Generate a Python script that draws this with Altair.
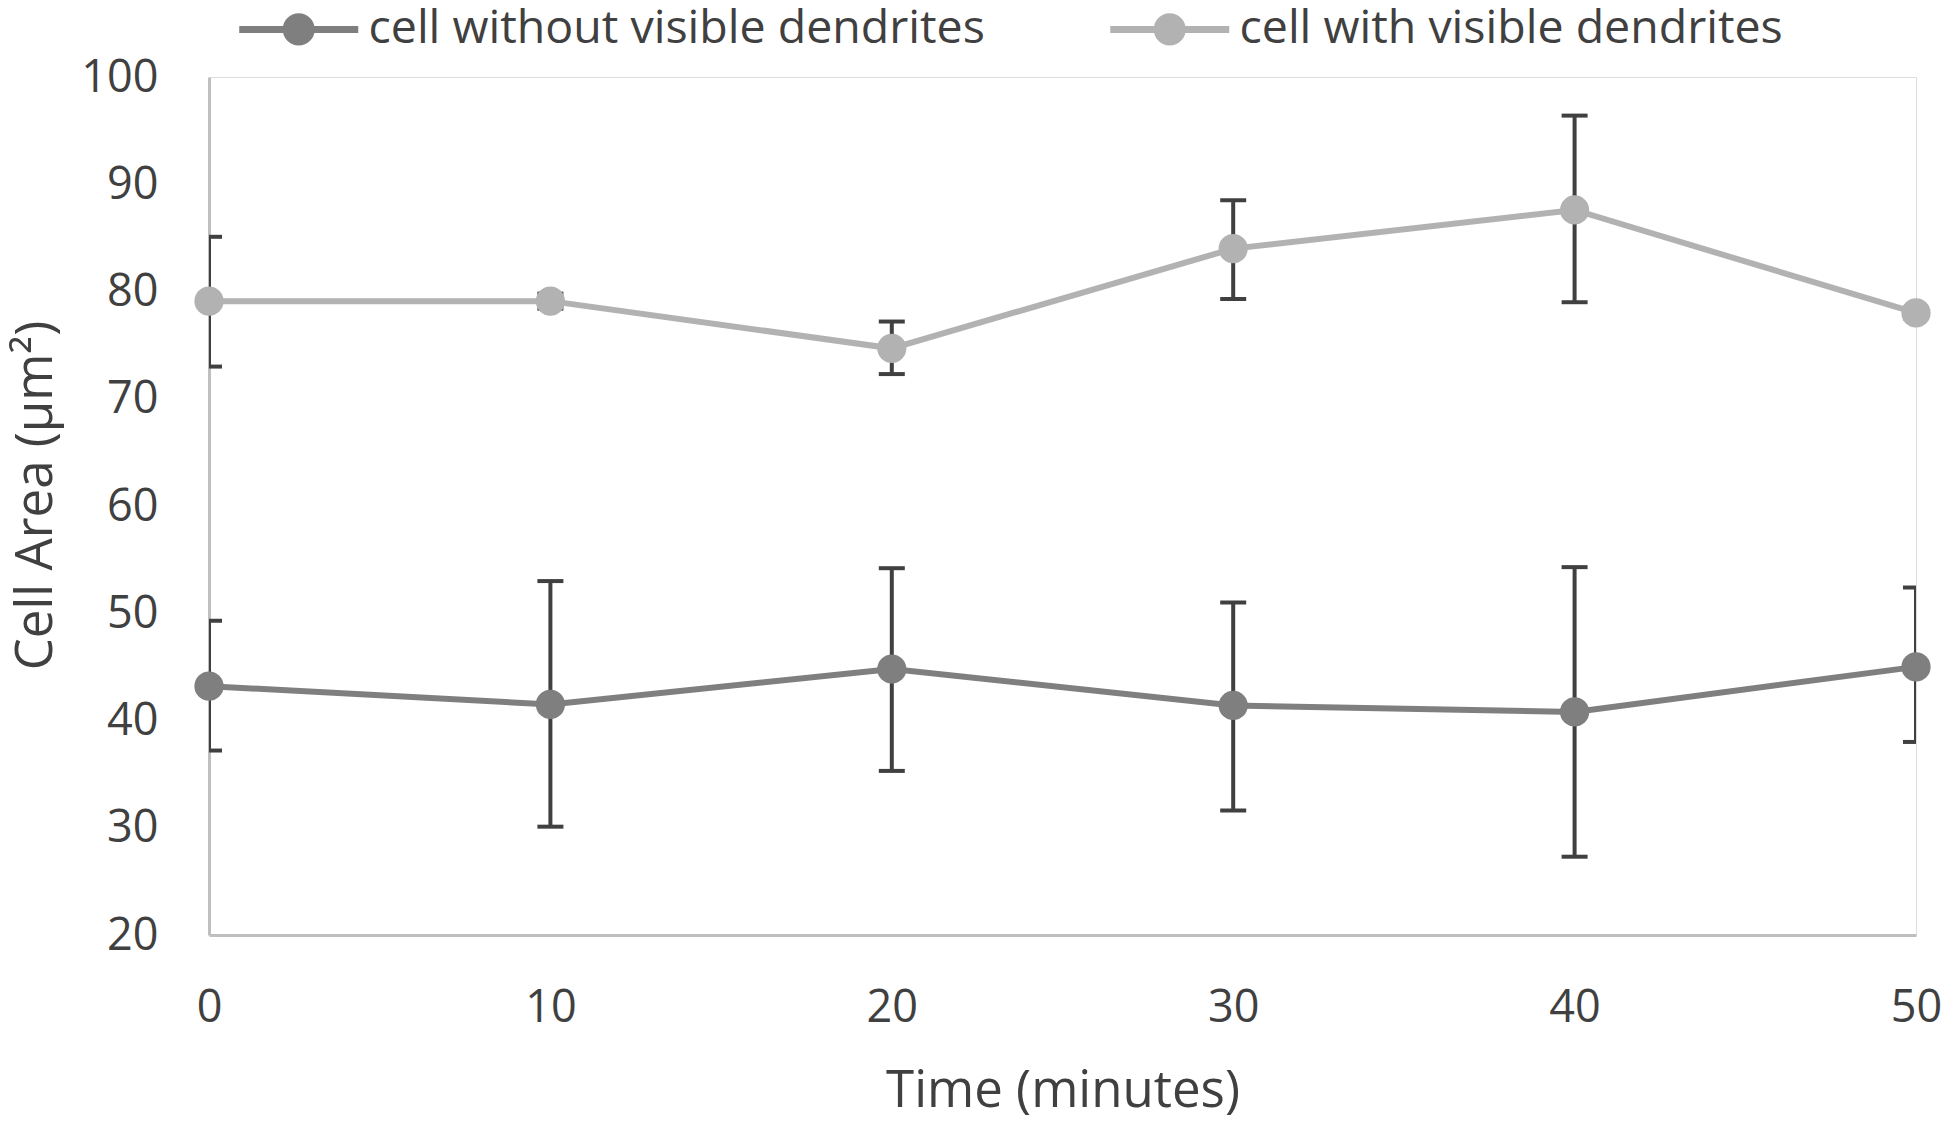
import altair as alt
import pandas as pd

time = [0, 10, 20, 30, 40, 50]
series_names = ["cell without visible dendrites", "cell with visible dendrites"]

dark_mean = [43.2, 41.5, 44.8, 41.4, 40.8, 45.0]
dark_hi = [49.3, 53.0, 54.2, 51.0, 54.3, 52.4]
dark_lo = [37.2, 30.1, 35.3, 31.6, 27.3, 38.0]

light_mean = [79.1, 79.1, 74.7, 84.0, 87.6, 78.0]
light_hi = [85.1, 79.8, 77.2, 88.5, 96.4, 78.5]
light_lo = [73.0, 78.4, 72.3, 79.3, 79.0, 77.5]

y_ticks = [20, 30, 40, 50, 60, 70, 80, 90, 100]
x_ticks = [0, 10, 20, 30, 40, 50]

rows = []
for name, m, h, l in [(series_names[0], dark_mean, dark_hi, dark_lo),
                      (series_names[1], light_mean, light_hi, light_lo)]:
    for t, mv, hv, lv in zip(time, m, h, l):
        rows.append({"time": t, "series": name, "mean": mv, "hi": hv, "lo": lv})
df = pd.DataFrame(rows)

FONT = "Open Sans"
TXT = "#404040"
ERR = "#404040"

xscale = alt.Scale(domain=[0, 50], nice=False, zero=False)
yscale = alt.Scale(domain=[20, 100], nice=False, zero=False)
cscale = alt.Scale(domain=series_names, range=["#7f7f7f", "#b2b2b2"])

sym_path = ("M-1,-0.25 L7.5,-0.25 L7.5,0.25 L-1,0.25 Z "
            "M4.393,0 A1.143,1.143 0 1,1 2.107,0 A1.143,1.143 0 1,1 4.393,0 Z")

legend = alt.Legend(
    title=None, orient="none", direction="horizontal",
    legendX=21, legendY=-71,
    symbolType=sym_path, symbolSize=784, symbolStrokeWidth=0,
    symbolOpacity=1, labelOffset=92, columnPadding=116,
    labelFont=FONT, labelFontSize=46.5, labelColor=TXT, labelLimit=1200,
    padding=0,
)

xaxis = alt.Axis(
    values=x_ticks, title="Time (minutes)", grid=False, ticks=False, tickSize=0,
    labelFlush=False,
    domainColor="#bfbfbf", domainWidth=3, labelFont=FONT, labelFontSize=45,
    labelColor=TXT, labelPadding=50, titleFont=FONT, titleFontSize=51,
    titleFontWeight="normal", titleColor=TXT, titleY=156, titleBaseline="middle",
)
yaxis = alt.Axis(
    values=y_ticks, title="Cell Area (µm²)", grid=False, ticks=False, tickSize=0,
    labelFlush=False,
    domainColor="#bfbfbf", domainWidth=3, labelFont=FONT, labelFontSize=45,
    labelColor=TXT, labelPadding=51, titleFont=FONT, titleFontSize=51,
    titleFontWeight="normal", titleColor=TXT, titleX=-173, titleY=418,
    titleAngle=-90, titleAlign="center", titleBaseline="middle",
)

base = alt.Chart(df)

err_rule = base.mark_rule(color=ERR, strokeWidth=4, clip=True).encode(
    x=alt.X("time:Q", scale=xscale, axis=xaxis),
    y=alt.Y("lo:Q", scale=yscale, axis=yaxis),
    y2="hi:Q",
)
cap_hi = base.mark_tick(color=ERR, thickness=4, size=26, orient="horizontal",
                        clip=True, opacity=1).encode(
    x=alt.X("time:Q", scale=xscale), y=alt.Y("hi:Q", scale=yscale))
cap_lo = base.mark_tick(color=ERR, thickness=4, size=26, orient="horizontal",
                        clip=True, opacity=1).encode(
    x=alt.X("time:Q", scale=xscale), y=alt.Y("lo:Q", scale=yscale))

lines = base.mark_line(strokeWidth=6).encode(
    x=alt.X("time:Q", scale=xscale),
    y=alt.Y("mean:Q", scale=yscale),
    color=alt.Color("series:N", scale=cscale, legend=legend, sort=series_names),
)
points = base.mark_point(filled=True, size=855, opacity=1, shape="circle").encode(
    x=alt.X("time:Q", scale=xscale),
    y=alt.Y("mean:Q", scale=yscale),
    color=alt.Color("series:N", scale=cscale, legend=legend, sort=series_names),
)

chart = alt.layer(err_rule, cap_hi, cap_lo, lines, points).properties(
    width=1707, height=858,
    autosize=alt.AutoSizeParams(type="none"),
    padding={"left": 201, "top": 69, "right": 26, "bottom": 181},
).configure_view(stroke=None).configure(background="white")

chart.save("out.html", embed_options={"renderer": "svg", "actions": False})
